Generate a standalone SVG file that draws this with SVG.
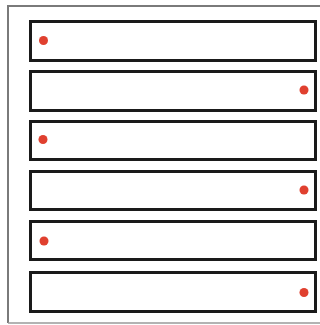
<svg xmlns="http://www.w3.org/2000/svg" width="320" height="325" viewBox="0 0 320 325">
<style>
.frame{fill:none;stroke:#7a7a7a;stroke-width:2}
.box{fill:#fff;stroke:#1a1a1a;stroke-width:3}
.dot{fill:#e0402f}
</style>
<rect width="320" height="325" fill="#fff"/>
<path class="frame" d="M8,323 V6 H320"/>
<line x1="8" y1="323" x2="320" y2="323" stroke="#9a9a9a" stroke-width="1.5"/>
<g id="row1"><rect class="box" x="30.5" y="21.5" width="285" height="39"/><circle class="dot" cx="43.5" cy="40.5" r="4.5"/></g>
<g id="row2"><rect class="box" x="30.5" y="71.5" width="285" height="39"/><circle class="dot" cx="304" cy="90" r="4.5"/></g>
<g id="row3"><rect class="box" x="30.5" y="121.5" width="285" height="38"/><circle class="dot" cx="43" cy="139.5" r="4.5"/></g>
<g id="row4"><rect class="box" x="30.5" y="171.5" width="285" height="38"/><circle class="dot" cx="304" cy="190" r="4.5"/></g>
<g id="row5"><rect class="box" x="30.5" y="221.5" width="285" height="38"/><circle class="dot" cx="44" cy="241" r="4.5"/></g>
<g id="row6"><rect class="box" x="30.5" y="272.5" width="285" height="39"/><circle class="dot" cx="304" cy="292.5" r="4.5"/></g>
</svg>
